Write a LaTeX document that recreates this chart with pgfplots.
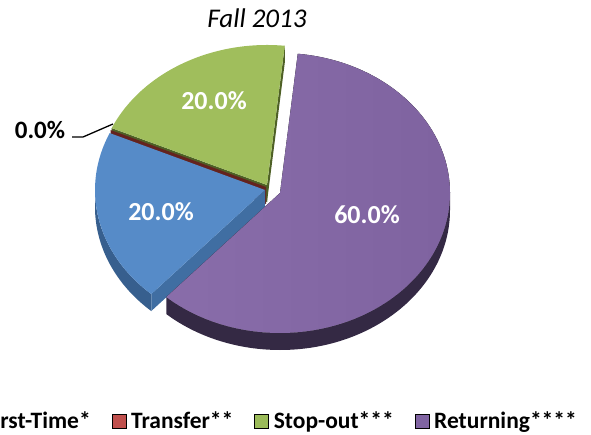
\documentclass[border=0pt]{standalone}
\usepackage{fontspec}
\setmainfont{Carlito}
\usepackage{pgfplots}
\usepackage{pgfplotstable}
\pgfplotsset{compat=1.18}

\definecolor{bTop}{RGB}{86,139,200}
\definecolor{bCut}{RGB}{64,110,162}
\definecolor{bRim}{RGB}{55,95,142}
\definecolor{gTop}{RGB}{160,190,92}
\definecolor{gCut}{RGB}{78,96,38}
\definecolor{rCut}{RGB}{100,35,30}
\definecolor{pTopL}{RGB}{137,109,170}
\definecolor{pTopR}{RGB}{126,98,159}
\definecolor{pRim}{RGB}{52,41,68}
\definecolor{lBlue}{RGB}{79,129,189}
\definecolor{lRed}{RGB}{192,80,77}
\definecolor{lGreen}{RGB}{155,187,89}
\definecolor{lPurple}{RGB}{128,100,162}

% category index, value (percent): First-Time, Transfer, Stop-out, Returning
\pgfplotstableread{
idx value
0 20
1 0
2 20
3 60
}\piedata

\newcommand\pieTop[5]{\fill[#5] (axis cs:#1,#2) -- ++(#3:170pt and 140pt) arc[start angle=#3,end angle=#4,x radius=170pt,y radius=140pt] -- cycle;}
\newcommand\pieRim[5]{\fill[#5] (axis cs:#1,#2) ++(#3:170pt and 140pt) arc[start angle=#3,end angle=#4,x radius=170pt,y radius=140pt] -- ++(0,-17pt) arc[start angle=#4,end angle=#3,x radius=170pt,y radius=140pt] -- cycle;}
\newcommand\pieCut[4]{\fill[#4] (axis cs:#1,#2) -- ++(#3:170pt and 140pt) -- ++(0,-17pt) -- ([yshift=-17pt]axis cs:#1,#2) -- cycle;}

\begin{document}
\begin{tikzpicture}
\useasboundingbox (0,0) rectangle (591pt,434pt);
\clip (0,0) rectangle (591pt,434pt);
\pgfplotstablegetelem{0}{value}\of\piedata\let\vF\pgfplotsretval
\pgfplotstablegetelem{1}{value}\of\piedata\let\vT\pgfplotsretval
\pgfplotstablegetelem{2}{value}\of\piedata\let\vS\pgfplotsretval
\pgfplotstablegetelem{3}{value}\of\piedata\let\vR\pgfplotsretval
\pgfmathsetmacro\aA{84}
\pgfmathsetmacro\aB{\aA+3.6*\vS}
\pgfmathsetmacro\aC{\aB+3.6*\vT}
\pgfmathsetmacro\aD{\aC+3.6*\vF}
\pgfmathsetmacro\aE{\aD+3.6*\vR}
\begin{axis}[at={(0,0)}, anchor=south west, scale only axis,
  width=591pt, height=434pt, xmin=0, xmax=591, ymin=0, ymax=434,
  hide axis, clip=false,
  legend columns=4,
  legend image code/.code={\fill[#1] (0pt,-7pt) rectangle (14pt,7pt);},
  legend style={at={(axis cs:577,13)}, anchor=east, draw=none, fill=none,
    font=\fontsize{23.5}{28}\selectfont\bfseries, inner sep=0pt,
    nodes={inner sep=0pt},
    /tikz/every odd column/.append style={column sep=5pt},
    /tikz/every even column/.append style={column sep=21pt}},
  /pgf/number format/assume math mode=true]
\addlegendimage{fill=lBlue}\addlegendentry{First-Time*}
\addlegendimage{fill=lRed}\addlegendentry{Transfer**}
\addlegendimage{fill=lGreen}\addlegendentry{Stop-out***}
\addlegendimage{fill=lPurple}\addlegendentry{Returning****}
% side rims
\pieRim{265}{244}{180}{\aD}{bRim}
\pieRim{280}{241}{\aD}{360}{pRim}
% cut faces
\pieCut{267}{249}{\aA}{gCut}
\pieCut{267}{249}{\aB}{gCut}
\pieCut{266}{247}{\aC}{rCut}
\pieCut{265}{244}{\aD}{bCut}
% top faces
\pieTop{267}{249}{\aA}{\aB}{gTop}
\pieTop{265}{244}{\aC}{\aD}{bTop}
\pieTop{280}{241}{\aD}{\aE}{left color=pTopL, right color=pTopR}
% labels
\node[text=white, font=\fontsize{26}{31}\selectfont\bfseries] at (axis cs:214,333) {\pgfmathprintnumber[fixed,fixed zerofill,precision=1]{\vS}\%};
\node[text=white, font=\fontsize{26}{31}\selectfont\bfseries] at (axis cs:161,222) {\pgfmathprintnumber[fixed,fixed zerofill,precision=1]{\vF}\%};
\node[text=white, font=\fontsize{26}{31}\selectfont\bfseries] at (axis cs:367,219) {\pgfmathprintnumber[fixed,fixed zerofill,precision=1]{\vR}\%};
\node[text=black, font=\fontsize{25}{30}\selectfont\bfseries] at (axis cs:40,304) {\pgfmathprintnumber[fixed,fixed zerofill,precision=1]{\vT}\%};
\draw[black, line width=1.3pt] (axis cs:72,297) -- (axis cs:83,297) -- (axis cs:113,310);
\node[font=\fontsize{27}{32}\selectfont\itshape] at (axis cs:257,416) {Fall 2013};
\end{axis}
\end{tikzpicture}
\end{document}
